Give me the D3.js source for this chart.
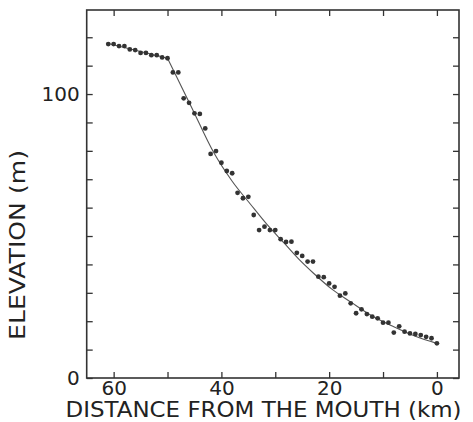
<!DOCTYPE html>
<html>
<head>
<meta charset="utf-8">
<script src="https://cdn.jsdelivr.net/npm/d3@7"></script>
<style>
  body { margin: 0; background: #fff; }
  svg text { font-family: "DejaVu Sans", sans-serif; fill: #222; }
</style>
</head>
<body>
<div id="chart"></div>
<script>
  // distance from the mouth (km) and measured elevation (m)
  var distance = [61, 60, 59, 58, 57, 56, 55, 54, 53, 52, 51, 50, 49, 48, 47, 46, 45, 44, 43, 42,
    41, 40, 39, 38, 37, 36, 35, 34, 33, 32, 31, 30, 29, 28, 27, 26, 25, 24, 23, 22,
    21, 20, 19, 18, 17, 16, 15, 14, 13, 12, 11, 10, 9, 8, 7, 6, 5, 4, 3, 2, 1, 0];
  var elevation = [117.6, 117.6, 116.9, 116.9, 115.7, 115.5, 114.5, 114.5, 113.7, 113.7, 112.9, 112.6,
    107.6, 107.6, 98.5, 96.9, 93.2, 93.0, 87.9, 78.9, 79.9, 75.8, 72.9, 72.1, 65.2, 63.3, 63.8,
    57.4, 52.1, 53.3, 52.1, 52.1, 48.9, 47.9, 48.0, 44.1, 43.0, 41.0, 41.0, 35.7, 35.5, 33.3,
    32.1, 29.0, 29.8, 26.3, 22.8, 24.2, 22.5, 21.6, 21.0, 19.5, 19.5, 16.0, 18.2, 16.3, 15.7,
    15.5, 15.1, 14.5, 14.0, 12.2];

  // fitted profile (kink at 50 km)
  var fitDistance = [61, 50, 45.5, 41.4, 38, 34.6, 31.5, 28.3, 25.5, 22.9, 19.5, 16.1, 12, 8.1, 4, 0];
  var fitElevation = [117.8, 112.6, 95.2, 79.3, 69.3, 61.2, 54, 47.4, 41.6, 36.9, 31.3, 26.9, 21.8, 18.1, 14.7, 12.2];
  var kink = 1;

  var xTicks = [60, 50, 40, 30, 20, 10, 0];
  var xLabels = [60, 40, 20, 0];
  var yTicks = d3.range(0, 130, 10);
  var yLabels = [0, 100];

  (function () {
    var W = 473, H = 422;
    var pl = 86.7, pr = 459, pt = 10, pb = 378;

    var svg = d3.select("#chart").append("svg")
      .attr("width", W)
      .attr("height", H);

    var x = d3.scaleLinear().domain([65, -4.1]).range([pl, pr]);
    var y = d3.scaleLinear().domain([0, 129.6]).range([pb, pt]);

    var fmtX = function(d) { return xLabels.indexOf(d) >= 0 ? d : ""; };
    var fmtY = function(d) { return yLabels.indexOf(d) >= 0 ? d : ""; };

    svg.append("g")
      .attr("transform", "translate(0," + pb + ")")
      .call(d3.axisBottom(x).tickValues(xTicks).tickSize(-6).tickPadding(3).tickFormat(fmtX));
    svg.append("g")
      .attr("transform", "translate(0," + pt + ")")
      .call(d3.axisTop(x).tickValues(xTicks).tickSize(-6).tickFormat(""));
    svg.append("g")
      .attr("transform", "translate(" + pl + ",0)")
      .call(d3.axisLeft(y).tickValues(yTicks).tickSize(-6).tickPadding(7).tickFormat(fmtY));
    svg.append("g")
      .attr("transform", "translate(" + pr + ",0)")
      .call(d3.axisRight(y).tickValues(yTicks).tickSize(-6).tickFormat(""));

    svg.selectAll(".domain").remove();
    svg.selectAll(".tick line").attr("stroke", "#333").attr("stroke-width", 1.3);
    svg.selectAll(".tick text").attr("font-size", 20).attr("fill", "#222");

    svg.append("rect")
      .attr("x", pl).attr("y", pt)
      .attr("width", pr - pl).attr("height", pb - pt)
      .attr("fill", "none")
      .attr("stroke", "#333")
      .attr("stroke-width", 1.6);

    var fit = fitDistance.map(function(d, i) { return [d, fitElevation[i]]; });
    var line = d3.line()
      .x(function(d) { return x(d[0]); })
      .y(function(d) { return y(d[1]); });

    // straight upper reach, smooth lower reach
    svg.append("path")
      .datum(fit.slice(0, kink + 1))
      .attr("d", line.curve(d3.curveLinear))
      .attr("fill", "none")
      .attr("stroke", "#555")
      .attr("stroke-width", 1.1);
    svg.append("path")
      .datum(fit.slice(kink))
      .attr("d", line.curve(d3.curveMonotoneX))
      .attr("fill", "none")
      .attr("stroke", "#555")
      .attr("stroke-width", 1.1);

    svg.append("g").selectAll("circle")
      .data(distance)
      .enter().append("circle")
      .attr("cx", function(d) { return x(d); })
      .attr("cy", function(d, i) { return y(elevation[i]); })
      .attr("r", 2.4)
      .attr("fill", "#333");

    svg.append("text")
      .attr("x", 263.5)
      .attr("y", 417)
      .attr("text-anchor", "middle")
      .attr("font-size", 20.5)
      .attr("textLength", 396)
      .attr("lengthAdjust", "spacingAndGlyphs")
      .text("DISTANCE FROM THE MOUTH (km)");

    svg.append("text")
      .attr("transform", "translate(25,245) rotate(-90)")
      .attr("text-anchor", "middle")
      .attr("font-size", 20.5)
      .attr("textLength", 190)
      .attr("lengthAdjust", "spacingAndGlyphs")
      .text("ELEVATION (m)");
  })();
</script>
</body>
</html>
